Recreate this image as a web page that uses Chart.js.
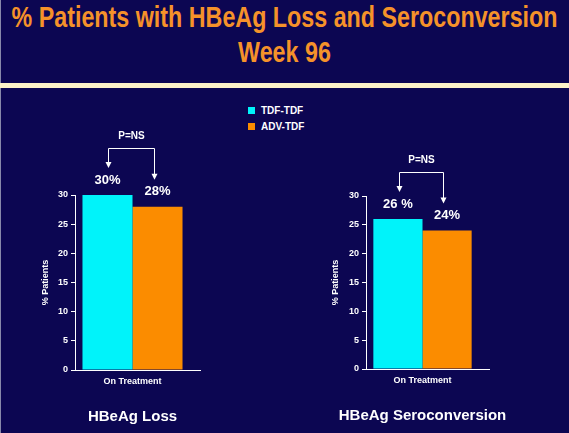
<!DOCTYPE html>
<html>
<head>
<meta charset="utf-8">
<script src="https://cdn.jsdelivr.net/npm/chart.js@4.4.0/dist/chart.umd.min.js"></script>
<style>
body{margin:0;background:#0c0652;width:569px;height:433px;overflow:hidden;position:relative;font-family:"Liberation Sans",Arial,sans-serif}
#title{position:absolute;left:-300px;top:0;width:1169px;text-align:center;color:#f5922a;font-weight:bold;font-size:29px;line-height:35px;transform-origin:50% 50%}
#title span{display:inline-block;white-space:nowrap}
#band{position:absolute;left:0;top:83px;width:569px;height:5px;background:#fdf3c8}
#edge{position:absolute;left:0;top:0;width:1px;height:433px;background:#8888aa}
#legend{position:absolute;left:248px;top:102px;color:#fff;font-weight:bold;font-size:10px}
.item{height:16.5px;display:flex;align-items:center}
.box{width:7px;height:7px;margin-right:6px}
canvas{position:absolute}
</style>
</head>
<body>
<div id="edge"></div>
<div id="title"><span id="t1">% Patients with HBeAg Loss and Seroconversion</span><br><span>Week 96</span></div>
<div id="band"></div>
<div id="legend"></div>
<canvas id="lossChart" width="285" height="338" style="left:0;top:95px"></canvas>
<canvas id="seroChart" width="284" height="338" style="left:285px;top:95px"></canvas>
<script>
// данные
const categories = ['On Treatment'];
const seriesNames = ['TDF-TDF', 'ADV-TDF'];
const seriesColors = ['#00f3fa', '#fb8c00'];
const lossValues = [30, 28];
const seroValues = [26, 24];
const lossLabels = ['30%', '28%'];
const seroLabels = ['26 %', '24%'];
const yTicks = [0, 5, 10, 15, 20, 25, 30];
const panelTitles = ['HBeAg Loss', 'HBeAg Seroconversion'];
const pText = 'P=NS';

const FONT = '"Liberation Sans", Arial, sans-serif';

// легенда
let legend = document.getElementById('legend');
seriesNames.forEach((name, i) => {
    let item = document.createElement('div');
    item.className = 'item';
    item.innerHTML = `<span class="box" style="background:${seriesColors[i]}"></span>${name}`;
    legend.appendChild(item);
});

// подписи, стрелки и заголовок панели
const bracketPlugin = {
    id: 'bracket',
    afterDraw(chart, args, opts) {
        const ctx = chart.ctx;
        const area = chart.chartArea;
        const bars = chart.data.datasets.map((d, i) => chart.getDatasetMeta(i).data[0]);
        ctx.save();
        ctx.fillStyle = '#fff';
        ctx.strokeStyle = '#fff';
        ctx.lineWidth = 1;

        // ось X чуть длиннее области
        ctx.beginPath();
        ctx.moveTo(area.right, Math.round(area.bottom) + 0.5);
        ctx.lineTo(area.right + 11, Math.round(area.bottom) + 0.5);
        ctx.stroke();

        ctx.textAlign = 'center';
        ctx.textBaseline = 'middle';
        ctx.font = 'bold 13px ' + FONT;
        let labelY = bars.map(b => b.y - 15);
        bars.forEach((b, i) => ctx.fillText(opts.labels[i], b.x, labelY[i]));

        let topY = Math.round(Math.min(...labelY) - 32) + 0.5;
        let xs = [Math.round(bars[0].x + 1) + 0.5, Math.round(bars[1].x - 4) + 0.5];
        let tips = labelY.map(y => y - 12);
        ctx.beginPath();
        ctx.moveTo(xs[0], tips[0] - 5);
        ctx.lineTo(xs[0], topY);
        ctx.lineTo(xs[1], topY);
        ctx.lineTo(xs[1], tips[1] - 5);
        ctx.stroke();
        xs.forEach((x, i) => {
            ctx.beginPath();
            ctx.moveTo(x - 3, tips[i] - 6);
            ctx.lineTo(x + 3, tips[i] - 6);
            ctx.lineTo(x, tips[i]);
            ctx.closePath();
            ctx.fill();
        });

        ctx.font = 'bold 10px ' + FONT;
        ctx.fillText(pText, (xs[0] + xs[1]) / 2, topY - 12);

        ctx.font = 'bold 15px ' + FONT;
        ctx.fillText(opts.title, (area.left + area.right) / 2, area.bottom + 47);
        ctx.restore();
    }
};

function makeChart(id, values, labels, title, pad, yWidth) {
    let ctx = document.getElementById(id).getContext('2d');
    return new Chart(ctx, {
        type: 'bar',
        data: {
            labels: categories,
            datasets: seriesNames.map((name, i) => ({
                label: name,
                data: [values[i]],
                backgroundColor: seriesColors[i],
                borderWidth: 0
            }))
        },
        options: {
            responsive: false,
            animation: false,
            categoryPercentage: 0.87,
            barPercentage: 1.0,
            layout: { padding: pad },
            plugins: {
                legend: { display: false },
                tooltip: { enabled: false },
                bracket: { labels: labels, title: title }
            },
            scales: {
                x: {
                    grid: { drawOnChartArea: false, drawTicks: false },
                    border: { display: true, color: '#fff', width: 1 },
                    ticks: { color: '#fff', padding: 6, font: { family: FONT, size: 9, weight: 'bold' } },
                    afterFit: scale => { scale.height = 19; }
                },
                y: {
                    min: yTicks[0],
                    max: yTicks[yTicks.length - 1],
                    ticks: { stepSize: yTicks[1] - yTicks[0], color: '#fff', padding: 3, font: { family: FONT, size: 9, weight: 'bold' } },
                    grid: { drawOnChartArea: false, drawTicks: true, tickLength: 4, color: '#fff' },
                    border: { display: true, color: '#fff', width: 1 },
                    title: { display: true, text: '% Patients', color: '#fff', padding: 0, font: { family: FONT, size: 9, weight: 'bold' } },
                    afterFit: scale => { scale.width = yWidth; }
                }
            }
        },
        plugins: [bracketPlugin]
    });
}

makeChart('lossChart', lossValues, lossLabels, panelTitles[0], { left: 40, right: 95, top: 100, bottom: 44 }, 35);
makeChart('seroChart', seroValues, seroLabels, panelTitles[1], { left: 45, right: 90, top: 101, bottom: 45 }, 36);

// заголовок сжат по ширине, как в оригинале
let t1 = document.getElementById('t1');
let s = 546 / t1.getBoundingClientRect().width;
document.getElementById('title').style.transform = `scaleX(${s})`;
</script>
</body>
</html>
